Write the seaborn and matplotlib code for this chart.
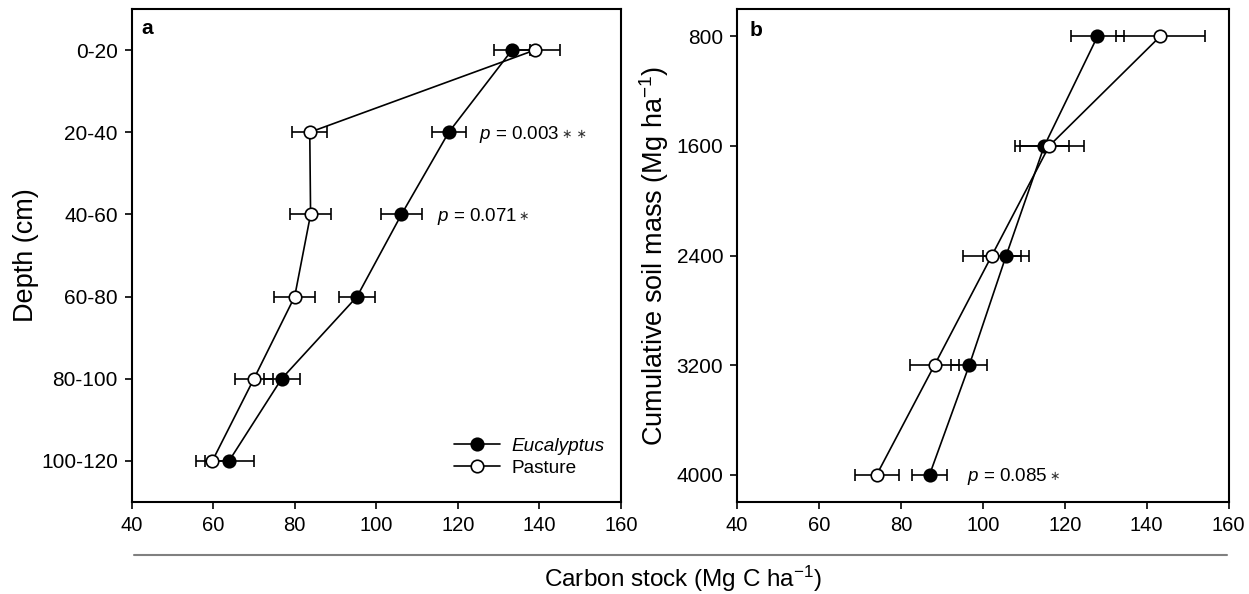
import matplotlib
matplotlib.use('Agg')
import matplotlib.pyplot as plt
import matplotlib.lines as mlines
import seaborn as sns
import pandas as pd

# panel a: carbon stock by depth layer
depth_labels = ['0-20', '20-40', '40-60', '60-80', '80-100', '100-120']
depth_mid = [10, 30, 50, 70, 90, 110]
euc_a = [133.3, 117.8, 106.2, 95.3, 76.8, 63.9]
euc_a_err = [4.4, 4.2, 5.0, 4.4, 4.4, 6.0]
past_a = [138.9, 83.7, 83.9, 80.0, 70.0, 59.8]
past_a_err = [6.1, 4.3, 5.0, 5.1, 4.7, 4.0]

# panel b: carbon stock by cumulative soil mass
mass = [800, 1600, 2400, 3200, 4000]
euc_b = [128.0, 115.0, 105.7, 96.7, 87.0]
euc_b_err = [6.4, 6.0, 5.6, 4.4, 4.3]
past_b = [143.3, 116.2, 102.2, 88.2, 74.1]
past_b_err = [10.9, 8.4, 7.0, 6.1, 5.4]

x_ticks = [40, 60, 80, 100, 120, 140, 160]

sns.set_style('ticks')
plt.rcParams['font.family'] = ['Liberation Sans', 'DejaVu Sans']
plt.rcParams['mathtext.fontset'] = 'custom'
plt.rcParams['mathtext.rm'] = 'Liberation Sans'
plt.rcParams['mathtext.it'] = 'Liberation Sans:italic'
plt.rcParams['text.color'] = 'black'
plt.rcParams['axes.labelcolor'] = 'black'

fig = plt.figure(figsize=(12.49, 5.94), dpi=100)
ax_a = fig.add_axes([0.1054, 0.1549, 0.3916, 0.8299])
ax_b = fig.add_axes([0.5902, 0.1549, 0.3934, 0.8299])


def draw_series(ax, x, y, err, face, label):
    ax.errorbar(x, y, xerr=err, fmt='none', ecolor='black', elinewidth=1.2,
                capsize=4.3, capthick=1.2, zorder=2)
    df = pd.DataFrame({'x': x, 'y': y})
    sns.lineplot(data=df, x='x', y='y', sort=False, ax=ax, color='black',
                 linewidth=1.2, marker='o', markersize=9, markerfacecolor=face,
                 markeredgecolor='black', markeredgewidth=1.2, label=label, zorder=3)


def p_label(ax, x, y, value, stars):
    t = ax.text(x, y, '$p$ = ' + value, fontsize=13.5, va='center', ha='left')
    ax.annotate(stars, xy=(1, 0.5), xycoords=t, xytext=(1.5, 0), textcoords='offset points',
                fontsize=9, family='DejaVu Sans', color='#333333', va='center', ha='left')


draw_series(ax_a, euc_a, depth_mid, euc_a_err, 'black', 'Eucalyptus')
draw_series(ax_a, past_a, depth_mid, past_a_err, 'white', 'Pasture')
draw_series(ax_b, euc_b, mass, euc_b_err, 'black', None)
draw_series(ax_b, past_b, mass, past_b_err, 'white', None)

ax_a.set_ylim(120, 0)
ax_a.set_yticks(depth_mid)
ax_a.set_yticklabels(depth_labels)
ax_b.set_ylim(4200, 600)
ax_b.set_yticks(mass)
ax_b.set_yticklabels([str(m) for m in mass])

for ax in (ax_a, ax_b):
    ax.set_xlim(40, 160)
    ax.set_xticks(x_ticks)
    ax.set_xlabel('')
    for s in ax.spines.values():
        s.set_linewidth(1.5)
        s.set_color('black')
    ax.tick_params(axis='both', direction='out', length=5, width=1.2,
                   colors='black', labelsize=14.5, top=False, right=False, pad=5)
    ax.tick_params(axis='y', labelsize=15)

ax_a.set_ylabel('Depth (cm)', fontsize=19.5, labelpad=1)
ax_b.set_ylabel('Cumulative soil mass (Mg ha$^{-1}$)', fontsize=19.5, labelpad=4)

ax_a.text(0.02, 0.949, 'a', transform=ax_a.transAxes, fontsize=15,
          fontweight='bold', va='baseline', ha='left')
ax_b.text(0.0246, 0.945, 'b', transform=ax_b.transAxes, fontsize=15,
          fontweight='bold', va='baseline', ha='left')

p_label(ax_a, 125.3, 30.6, '0.003', '∗ ∗')
p_label(ax_a, 114.8, 50.5, '0.071', '∗')
p_label(ax_b, 96.1, 4012, '0.085', '∗')

leg = ax_a.legend(loc='center left', frameon=False, fontsize=13.7,
                  handlelength=2.4, handletextpad=0.6, labelspacing=0.25,
                  borderpad=0, borderaxespad=0, bbox_to_anchor=(0.659, 0.0913))
leg.get_texts()[0].set_fontstyle('italic')

fig.add_artist(mlines.Line2D([133.6 / 1249, 1226.5 / 1249], [1 - 555 / 594, 1 - 555 / 594],
                             color='#808080', linewidth=1.5))
fig.text(683 / 1249, 1 - 579 / 594, 'Carbon stock (Mg C ha$^{-1}$)', fontsize=17.5,
         ha='center', va='center')

fig.savefig('out.png', dpi=100)
